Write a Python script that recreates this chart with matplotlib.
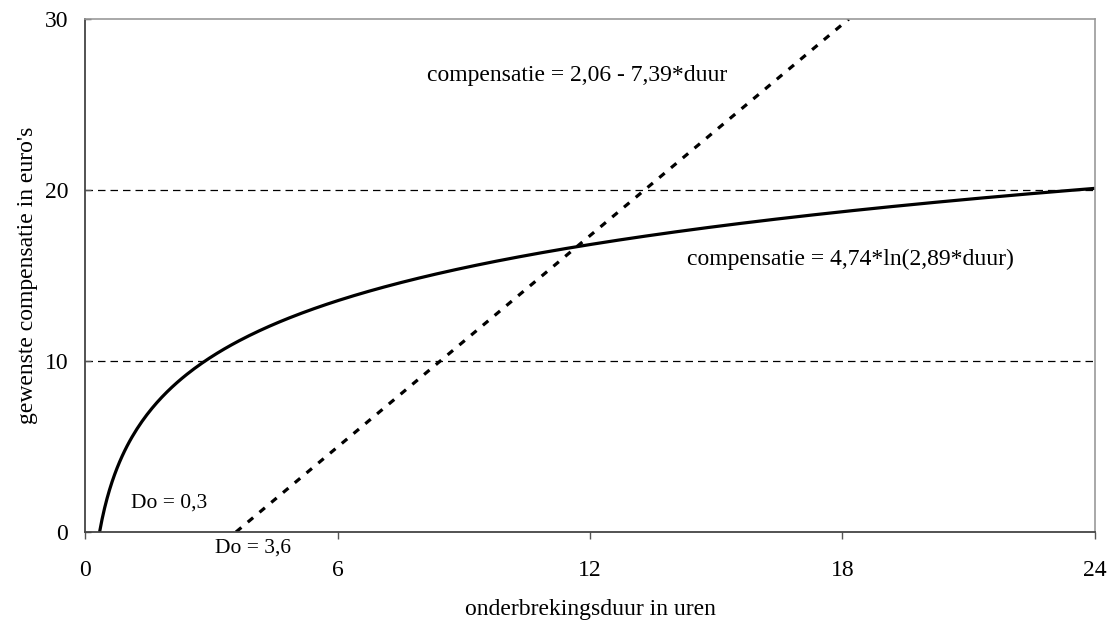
import numpy as np
import matplotlib
matplotlib.use("Agg")
import matplotlib.pyplot as plt

# fitted models shown in the chart
log_a, log_b = 4.74, 2.89        # compensatie = a*ln(b*duur)
lin_slope, lin_icpt = 2.06, -7.39  # line through Do = 3,6
do_log, do_lin = 0.3, 3.6
x_max = 24
x_ticks = [0, 6, 12, 18, 24]
y_ticks = [0, 10, 20, 30]
grid_levels = [10, 20]

plt.rcParams["font.family"] = ["Liberation Serif", "DejaVu Serif"]
fs = 17

fig = plt.figure(figsize=(11.13, 6.22), dpi=100)
ax = fig.add_axes([0.0764, 0.1447, 0.9074, 0.8248])

x1 = np.linspace(1 / log_b, x_max, 400)
ax.plot(x1, log_a * np.log(log_b * x1), color="black", lw=2.3, solid_capstyle="butt")

x2 = np.linspace(-lin_icpt / lin_slope, (30 - lin_icpt) / lin_slope, 200)
ax.plot(x2, lin_slope * x2 + lin_icpt, color="black", lw=2.3,
        linestyle=(0, (2.2, 2.6)), dash_capstyle="butt")

for g in grid_levels:
    ax.axhline(g, color="black", lw=0.9, linestyle=(0, (6, 4)), zorder=0)

ax.set_xlim(0, x_max)
ax.set_ylim(0, 30)
ax.set_xticks(x_ticks)
ax.set_yticks(y_ticks)
ax.tick_params(axis="x", direction="out", length=5, width=1, color="#555555",
               labelsize=fs, pad=15)
ax.tick_params(axis="y", direction="in", length=4, width=1, color="#555555",
               labelsize=fs, pad=12)

for s in ("left", "bottom"):
    ax.spines[s].set_color("#444444")
    ax.spines[s].set_linewidth(1.3)
for s in ("top", "right"):
    ax.spines[s].set_color("#999999")
    ax.spines[s].set_linewidth(1.2)

ax.set_xlabel("onderbrekingsduur in uren", fontsize=fs, labelpad=13)
ax.set_ylabel("gewenste compensatie in euro's", fontsize=fs, labelpad=5)

ax.text(11.7, 26.7, "compensatie = 2,06 - 7,39*duur", fontsize=fs, ha="center", va="center")
ax.text(18.2, 15.95, "compensatie = 4,74*ln(2,89*duur)", fontsize=fs, ha="center", va="center")
ax.text(2.0, 1.7, f"Do = {str(do_log).replace('.', ',')}", fontsize=15.5, ha="center", va="center")
ax.text(4.0, -0.95, f"Do = {str(do_lin).replace('.', ',')}", fontsize=15.5, ha="center", va="center",
        clip_on=False)

fig.savefig("out.png", dpi=100)
